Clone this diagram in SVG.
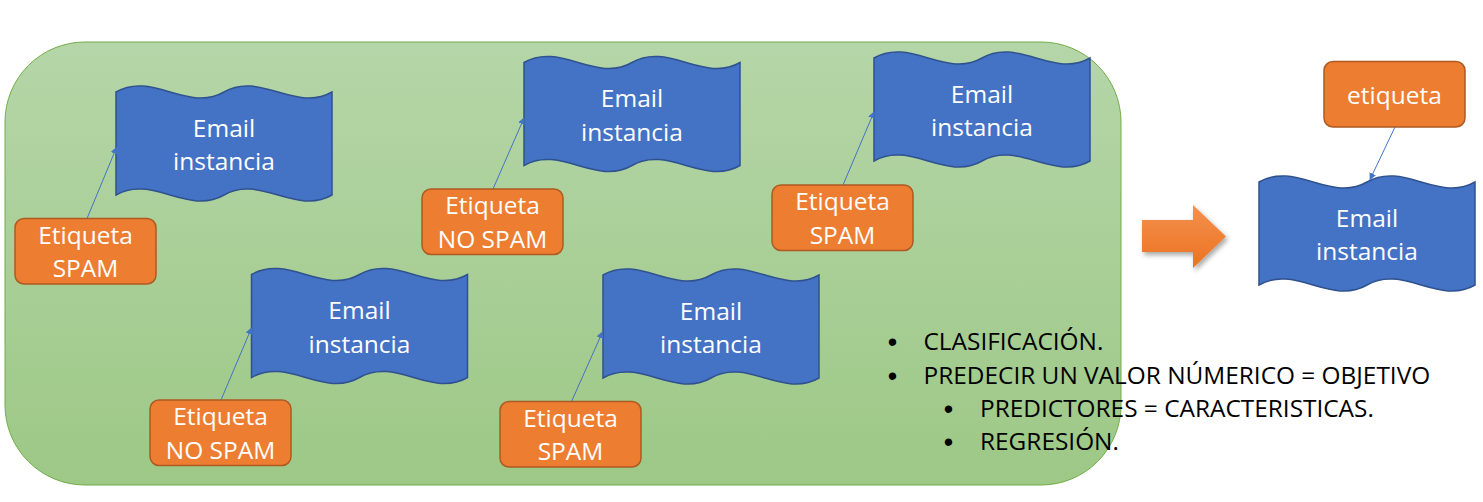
<svg xmlns="http://www.w3.org/2000/svg" xmlns:xlink="http://www.w3.org/1999/xlink" width="1483" height="502" viewBox="0 0 1483 502">
<style>
.flag{fill:#4472C4;stroke:#2F528F;stroke-width:1.5}
.lbl{fill:#ED7D31;stroke:#AE5A21;stroke-width:1.5}
.wt{font-family:"Open Sans","Noto Sans",sans-serif;font-size:24.5px;fill:#FFFFFF;text-anchor:middle}
.bt{font-family:"Open Sans","Noto Sans",sans-serif;font-size:24.4px;fill:#000000}
.bl{font-family:"Liberation Sans",Arial,sans-serif;font-size:27px;fill:#000000;text-anchor:middle}
.con{stroke:#4472C4;stroke-width:1;fill:none;marker-end:url(#ah)}
</style>
<defs>
<linearGradient id="gg" x1="0" y1="0" x2="0" y2="1">
<stop offset="0" stop-color="#B5D6A8"/>
<stop offset="1" stop-color="#9DC886"/>
</linearGradient>
<linearGradient id="og" x1="0" y1="0" x2="0" y2="1">
<stop offset="0" stop-color="#F4914F"/>
<stop offset="1" stop-color="#EC7220"/>
</linearGradient>
<filter id="sh" x="-30%" y="-30%" width="160%" height="160%">
<feDropShadow dx="2" dy="3" stdDeviation="2.5" flood-color="#000" flood-opacity="0.35"/>
</filter>
<marker id="ah" viewBox="0 0 10 10" refX="9" refY="5" markerWidth="7" markerHeight="7" markerUnits="userSpaceOnUse" orient="auto">
<path d="M0,0 L10,5 L0,10 Z" fill="#4472C4"/>
</marker>
<path id="wave" d="M0,0 C36,-21 72,21 108,0 C144,-21 180,21 216,0 L216,103 C180,124 144,82 108,103 C72,124 36,82 0,103 Z"/>
</defs>

<rect id="panel" x="5" y="42" width="1116" height="443" rx="80" ry="80" fill="url(#gg)" stroke="#70AD47" stroke-width="1"/>

<g id="email1">
<use xlink:href="#wave" class="flag" transform="translate(116,92)"/>
<text class="wt" x="224" y="136.5">Email</text>
<text class="wt" x="224" y="170">instancia</text>
</g>
<g id="email2">
<use xlink:href="#wave" class="flag" transform="translate(524,62.5)"/>
<text class="wt" x="632" y="107">Email</text>
<text class="wt" x="632" y="140.5">instancia</text>
</g>
<g id="email3">
<use xlink:href="#wave" class="flag" transform="translate(874,58)"/>
<text class="wt" x="982" y="102.5">Email</text>
<text class="wt" x="982" y="136">instancia</text>
</g>
<g id="email4">
<use xlink:href="#wave" class="flag" transform="translate(251.5,274.5)"/>
<text class="wt" x="359.5" y="319">Email</text>
<text class="wt" x="359.5" y="352.5">instancia</text>
</g>
<g id="email5">
<use xlink:href="#wave" class="flag" transform="translate(603,275)"/>
<text class="wt" x="711" y="319.5">Email</text>
<text class="wt" x="711" y="353">instancia</text>
</g>
<g id="email6">
<use xlink:href="#wave" class="flag" transform="translate(1259,182)"/>
<text class="wt" x="1367" y="226.5">Email</text>
<text class="wt" x="1367" y="260">instancia</text>
</g>

<g id="label1">
<rect class="lbl" x="15" y="218.5" width="141" height="65.5" rx="9"/>
<text class="wt" x="85.5" y="243.5">Etiqueta</text>
<text class="wt" x="85.5" y="277">SPAM</text>
</g>
<g id="label2">
<rect class="lbl" x="422" y="189" width="141" height="65.5" rx="9"/>
<text class="wt" x="492.5" y="214">Etiqueta</text>
<text class="wt" x="492.5" y="247.5">NO SPAM</text>
</g>
<g id="label3">
<rect class="lbl" x="772" y="185" width="141" height="65.5" rx="9"/>
<text class="wt" x="842.5" y="210">Etiqueta</text>
<text class="wt" x="842.5" y="243.5">SPAM</text>
</g>
<g id="label4">
<rect class="lbl" x="150" y="400" width="141" height="65.5" rx="9"/>
<text class="wt" x="220.5" y="425">Etiqueta</text>
<text class="wt" x="220.5" y="458.5">NO SPAM</text>
</g>
<g id="label5">
<rect class="lbl" x="500" y="401.5" width="141" height="65.5" rx="9"/>
<text class="wt" x="570.5" y="426.5">Etiqueta</text>
<text class="wt" x="570.5" y="460">SPAM</text>
</g>
<g id="label6">
<rect class="lbl" x="1324" y="61.5" width="141" height="65.5" rx="9"/>
<text class="wt" x="1394.5" y="103.5">etiqueta</text>
</g>

<g id="connectors">
<line class="con" x1="87" y1="218.5" x2="116.5" y2="147.5"/>
<line class="con" x1="493" y1="189" x2="524" y2="118"/>
<line class="con" x1="843" y1="185" x2="874" y2="112"/>
<line class="con" x1="221" y1="400" x2="251.5" y2="328"/>
<line class="con" x1="571.5" y1="401.5" x2="602.5" y2="332"/>
<line class="con" x1="1395" y1="127" x2="1370" y2="179.5"/>
</g>

<g id="bigArrow">
<path d="M1142,220 L1193,220 L1193,205 L1226,236.5 L1193,268 L1193,252 L1142,252 Z" fill="url(#og)" filter="url(#sh)"/>
</g>

<g id="bullets">
<text class="bl" x="892.5" y="351">•</text>
<text class="bt" x="923.5" y="350">CLASIFICACIÓN.</text>
<text class="bl" x="892.5" y="385">•</text>
<text class="bt" x="923.5" y="384">PREDECIR UN VALOR NÚMERICO = OBJETIVO</text>
<text class="bl" x="948.5" y="418">•</text>
<text class="bt" x="980" y="417">PREDICTORES = CARACTERISTICAS.</text>
<text class="bl" x="948.5" y="451">•</text>
<text class="bt" x="980" y="450">REGRESIÓN.</text>
</g>
</svg>
